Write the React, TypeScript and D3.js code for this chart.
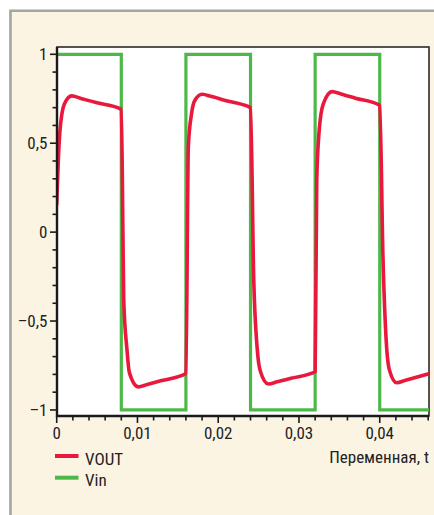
import React, { useRef, useEffect } from "react";
import * as d3 from "d3";

// VOUT samples (time, volts)
const voutT = [
  0, 0.0003, 0.00066, 0.00095, 0.00186, 0.003, 0.005, 0.008,
  0.0082, 0.0083, 0.0087, 0.009, 0.0101, 0.0112, 0.013, 0.016,
  0.0163, 0.0167, 0.0171, 0.018, 0.0192, 0.021, 0.024,
  0.0244, 0.0248, 0.0252, 0.0262, 0.0273, 0.029, 0.032,
  0.0322, 0.0325, 0.033, 0.0341, 0.0352, 0.037, 0.04,
  0.0404, 0.0408, 0.0412, 0.0421, 0.0432, 0.0462,
];
const voutV = [
  0.152, 0.5, 0.67, 0.72, 0.766, 0.752, 0.727, 0.69,
  0.0, -0.38, -0.66, -0.79, -0.87, -0.857, -0.835, -0.795,
  0.48, 0.667, 0.74, 0.775, 0.762, 0.739, 0.7,
  -0.27, -0.64, -0.78, -0.854, -0.842, -0.822, -0.785,
  0.29, 0.57, 0.72, 0.79, 0.777, 0.753, 0.713,
  -0.14, -0.61, -0.775, -0.847, -0.833, -0.795,
];

// Vin square wave: level holds from each time to the next
const vinT = [0, 0.008, 0.016, 0.024, 0.032, 0.04, 0.0462];
const vinV = [1, -1, 1, -1, 1, -1, -1];

const xMajor = [0, 0.01, 0.02, 0.03, 0.04];
const xLabels = ["0", "0,01", "0,02", "0,03", "0,04"];
const yMajor = [1, 0.5, 0, -0.5, -1];
const yLabels = ["1", "0,5", "0", "–0,5", "–1"];

const legendItems = [
  { name: "VOUT", color: "#e8193c" },
  { name: "Vin", color: "#4db848" },
];

const FONT = "'Liberation Sans Narrow', 'Arial Narrow', 'Roboto Condensed', sans-serif";

const App = () => {
  const svgRef = useRef<SVGSVGElement>(null);
  const width = 434;
  const height = 515;

  useEffect(() => {
    const svg = d3.select(svgRef.current);
    svg.selectAll("*").remove();

    const plot = { left: 57, right: 429, top: 47, bottom: 416 };

    const x = d3.scaleLinear().domain([0, 0.0461]).range([plot.left - 0.3, plot.right]);
    const y = d3.scaleLinear().domain([1.041, -1.034]).range([plot.top, plot.bottom]);

    // panel background
    svg.append("rect").attr("width", width).attr("height", height).attr("fill", "#fff");
    svg
      .append("rect")
      .attr("x", 10)
      .attr("y", 10.5)
      .attr("width", width - 10)
      .attr("height", height - 10)
      .attr("fill", "#fcf4e3");
    svg
      .append("path")
      .attr("d", `M10.5,${height} L10.5,10.8 L${width},10.8`)
      .attr("fill", "none")
      .attr("stroke", "#a4a4a4")
      .attr("stroke-width", 2.6);

    // plot area
    svg
      .append("rect")
      .attr("x", plot.left)
      .attr("y", plot.top)
      .attr("width", plot.right - plot.left)
      .attr("height", plot.bottom - plot.top)
      .attr("fill", "#fff")
      .attr("stroke", "#2a2a2a")
      .attr("stroke-width", 1.6);

    svg
      .append("clipPath")
      .attr("id", "plotClip")
      .append("rect")
      .attr("x", plot.left)
      .attr("y", plot.top)
      .attr("width", plot.right - plot.left)
      .attr("height", plot.bottom - plot.top);

    const g = svg.append("g").attr("clip-path", "url(#plotClip)");

    // Vin
    const vinLine = d3
      .line<number>()
      .x((d, i) => x(vinT[i]))
      .y((d) => y(d))
      .curve(d3.curveStepAfter);
    g.append("path")
      .attr("d", vinLine(vinV))
      .attr("fill", "none")
      .attr("stroke", "#4db848")
      .attr("stroke-width", 3.2);

    // VOUT
    const voutLine = d3
      .line<number>()
      .x((d, i) => x(voutT[i]))
      .y((d) => y(d))
      .curve(d3.curveMonotoneX);
    g.append("path")
      .attr("d", voutLine(voutV))
      .attr("fill", "none")
      .attr("stroke", "#e8193c")
      .attr("stroke-width", 3.6)
      .attr("stroke-linejoin", "round");

    // axes lines (left and bottom heavier)
    svg
      .append("path")
      .attr("d", `M${plot.left},${plot.top} L${plot.left},${plot.bottom} L${plot.right},${plot.bottom}`)
      .attr("fill", "none")
      .attr("stroke", "#1a1a1a")
      .attr("stroke-width", 2.4);

    // x ticks
    const xMinor = d3.range(0, 0.0461, 0.002);
    xMinor.forEach((t) => {
      const isMajor = xMajor.some((m) => Math.abs(m - t) < 1e-9);
      svg
        .append("line")
        .attr("x1", x(t))
        .attr("x2", x(t))
        .attr("y1", plot.bottom)
        .attr("y2", plot.bottom + (isMajor ? 7 : 4.5))
        .attr("stroke", "#1a1a1a")
        .attr("stroke-width", 1.6);
    });
    xMajor.forEach((t, i) => {
      svg
        .append("text")
        .attr("x", x(t))
        .attr("y", 438.5)
        .attr("text-anchor", "middle")
        .style("font-family", FONT)
        .style("font-size", "17px")
        .attr("fill", "#222")
        .text(xLabels[i]);
    });

    // y ticks
    const yMinor = d3.range(-10, 11).map((k) => k / 10);
    yMinor.forEach((v) => {
      const isMajor = yMajor.some((m) => Math.abs(m - v) < 1e-9);
      svg
        .append("line")
        .attr("x1", plot.left)
        .attr("x2", plot.left - (isMajor ? 7 : 4.5))
        .attr("y1", y(v))
        .attr("y2", y(v))
        .attr("stroke", "#1a1a1a")
        .attr("stroke-width", 1.6);
    });
    yMajor.forEach((v, i) => {
      svg
        .append("text")
        .attr("x", 47.5)
        .attr("y", y(v) + 6)
        .attr("text-anchor", "end")
        .style("font-family", FONT)
        .style("font-size", "17px")
        .attr("fill", "#222")
        .text(yLabels[i]);
    });

    // x axis title
    svg
      .append("text")
      .attr("x", 429)
      .attr("y", 463)
      .attr("text-anchor", "end")
      .style("font-family", FONT)
      .style("font-size", "17px")
      .attr("fill", "#222")
      .text("Переменная, t");

    // legend
    legendItems.forEach((item, i) => {
      const ly = 456 + i * 21.7;
      svg
        .append("line")
        .attr("x1", 55)
        .attr("x2", 78.5)
        .attr("y1", ly)
        .attr("y2", ly)
        .attr("stroke", item.color)
        .attr("stroke-width", 4);
      svg
        .append("text")
        .attr("x", 85)
        .attr("y", ly + 8.5)
        .style("font-family", FONT)
        .style("font-size", "17px")
        .attr("fill", "#222")
        .text(item.name);
    });
  }, []);

  return (
    <svg
      ref={svgRef}
      width={width}
      height={height}
      style={{ position: "absolute", left: 0, top: 0, display: "block" }}
    />
  );
};

export default App;
